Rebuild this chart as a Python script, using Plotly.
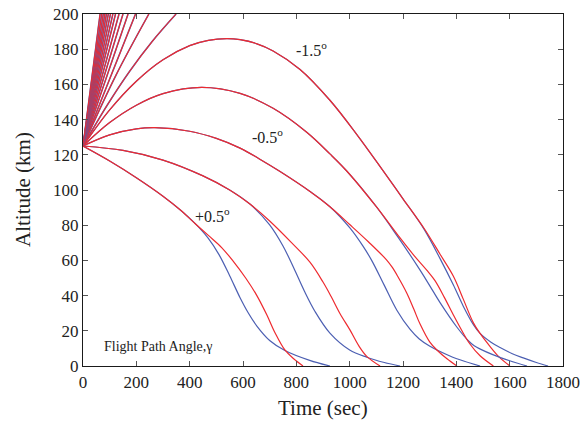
import plotly.graph_objects as go

RED = "#ee2a2f"
BLUE = "#4c5fb2"

# ---- Flight path angle +0.5 deg ----
t_p05_blue = [0, 100, 200, 300, 364, 420, 470, 510, 550, 589, 620, 652, 700, 757, 850, 926]
h_p05_blue = [125, 116.5, 107, 96.5, 88.8, 81, 72.5, 63.3, 51.3, 38.8, 30.1, 22.7, 14.5, 8.8, 3.2, 0]
t_p05_red = [0, 100, 200, 300, 364, 420, 470, 520, 563, 610, 652, 690, 720, 757, 790, 825]
h_p05_red = [125, 116.5, 107, 96.5, 88.8, 81, 74.2, 67.3, 59.6, 50, 40, 28.8, 18.9, 9.1, 4.1, 0]

# ---- 0 deg ----
t_00_blue = [0, 150, 300, 450, 550, 626, 700, 750, 790, 830, 870, 926, 1000, 1064, 1130, 1189]
h_00_blue = [125, 122.5, 117, 108, 100, 92, 80.2, 68.2, 55.8, 42.6, 31, 18.7, 9.1, 5, 2, 0]
t_00_red = [0, 150, 300, 450, 550, 626, 700, 780, 851, 900, 930, 964, 1001, 1035, 1064, 1114]
h_00_red = [125, 122.5, 117, 108, 100, 92, 82.4, 70.4, 59, 47.7, 39.6, 29.7, 20.5, 11.3, 5.5, 0]

# ---- -0.5 deg ----
t_m05_blue = [0, 100, 200, 270, 400, 500, 589, 660, 739, 850, 926, 1000, 1050, 1084, 1130, 1177, 1226, 1260, 1301, 1376, 1430, 1489]
h_m05_blue = [125, 131.3, 134.7, 135.4, 133.4, 129.3, 123.8, 117.8, 110.5, 99.3, 90.5, 78.6, 68.1, 59.6, 45.8, 31.7, 20.9, 15.5, 11.2, 5.7, 2.7, 0]
t_m05_red = [0, 100, 200, 270, 400, 500, 589, 660, 739, 850, 926, 1000, 1070, 1139, 1160, 1180, 1214, 1240, 1264, 1300, 1327, 1365, 1402]
h_m05_red = [125, 131.3, 134.7, 135.4, 133.4, 129.3, 123.8, 117.8, 110.5, 99.3, 90.5, 80.4, 70.6, 60.2, 56, 51, 41.5, 32.5, 23.8, 13.7, 9.1, 4.1, 0]

# ---- -1.0 deg ----
t_m10_blue = [0, 100, 200, 300, 445, 589, 713, 839, 926, 989, 1100, 1180, 1264, 1300, 1339, 1401, 1444, 1467, 1490, 1539, 1600, 1665]
h_m10_blue = [125, 138.3, 148.2, 154.8, 158.3, 154.9, 146.4, 132.8, 120.5, 110.8, 90.5, 73.5, 54.5, 45.7, 36, 22.3, 14.5, 11.5, 9.6, 6.3, 3, 0]
t_m10_red = [0, 100, 200, 300, 445, 589, 713, 839, 926, 989, 1100, 1180, 1240, 1289, 1320, 1355, 1389, 1420, 1451, 1489, 1539]
h_m10_red = [125, 138.3, 148.2, 154.8, 158.3, 154.9, 146.4, 132.8, 120.5, 110.8, 90.5, 74.5, 63, 54.5, 48.5, 39, 29, 20.3, 12.5, 5.8, 0]

# ---- -1.5 deg ----
t_m15_blue = [0, 100, 200, 300, 400, 470, 539, 589, 650, 713, 814, 926, 1027, 1125, 1200, 1280, 1339, 1389, 1426, 1464, 1489, 1530, 1564, 1610, 1651, 1700, 1744]
h_m15_blue = [125, 145.5, 161.8, 174, 182, 185, 186, 185.4, 183.2, 179, 168.5, 151, 131.5, 111, 95, 77.5, 61, 46, 34, 23.5, 18.5, 13.5, 10.5, 7, 4.6, 2, 0]
t_m15_red = [0, 100, 200, 300, 400, 470, 539, 589, 650, 713, 814, 926, 1027, 1125, 1200, 1280, 1339, 1389, 1426, 1464, 1489, 1526, 1560, 1601]
h_m15_red = [125, 145.5, 161.8, 174, 182, 185, 186, 185.4, 183.2, 179, 168.5, 151, 131.5, 111, 95, 78, 63.5, 51, 38, 24.5, 18.5, 11.2, 5.2, 0]

# ---- steeper angles (leave the frame at 200 km) ----
t_m20 = [0, 90, 175, 260, 349]
h_m20 = [125, 148, 167.5, 184.5, 200]
t_m25 = [0, 123, 247]
h_m25 = [125, 165, 200]
steep_exit_t = [197, 169, 150, 135, 122, 112, 103, 95, 88, 82, 76, 70, 64]
steep_start = (0, 125)
steep_top = 200

fig = go.Figure()

def add_pair(tb, hb, tr, hr, wb=1.2, wr=1.2):
    fig.add_trace(go.Scatter(x=tb, y=hb, mode="lines", line=dict(color=BLUE, width=wb, shape="spline", smoothing=1.0), hoverinfo="skip"))
    fig.add_trace(go.Scatter(x=tr, y=hr, mode="lines", line=dict(color=RED, width=wr, shape="spline", smoothing=1.0), hoverinfo="skip"))

for te in steep_exit_t:
    tt = [steep_start[0], te]
    hh = [steep_start[1], steep_top]
    add_pair(tt, hh, tt, hh, 1.5, 1.1)
add_pair(t_m25, h_m25, t_m25, h_m25, 1.5, 1.1)
add_pair(t_m20, h_m20, t_m20, h_m20, 1.5, 1.1)
add_pair(t_m15_blue, h_m15_blue, t_m15_red, h_m15_red)
add_pair(t_m10_blue, h_m10_blue, t_m10_red, h_m10_red)
add_pair(t_m05_blue, h_m05_blue, t_m05_red, h_m05_red)
add_pair(t_00_blue, h_00_blue, t_00_red, h_00_red)
add_pair(t_p05_blue, h_p05_blue, t_p05_red, h_p05_red)

FONT = "Liberation Serif"
TXT = "#222222"

annotations = [
    dict(x=858, y=180, text="-1.5<sup>o</sup>", xanchor="center", yanchor="middle"),
    dict(x=692, y=130.5, text="-0.5<sup>o</sup>", xanchor="center", yanchor="middle"),
    dict(x=484, y=86, text="+0.5<sup>o</sup>", xanchor="center", yanchor="middle"),
]
for a in annotations:
    fig.add_annotation(**a, showarrow=False, font=dict(family=FONT, size=16, color=TXT))
fig.add_annotation(x=72, y=11, text="Flight Path Angle,γ", xanchor="left", yanchor="middle",
                   showarrow=False, font=dict(family=FONT, size=14, color=TXT))

# axis titles
fig.add_annotation(xref="paper", yref="paper", x=0.5, y=0, yshift=-42, text="Time (sec)",
                   xanchor="center", yanchor="middle", showarrow=False,
                   font=dict(family=FONT, size=21, color=TXT))
fig.add_annotation(xref="paper", yref="paper", x=0, y=0.5, xshift=-60, text="Altitude (km)",
                   textangle=-90, xanchor="center", yanchor="middle", showarrow=False,
                   font=dict(family=FONT, size=21, color=TXT))

axis_common = dict(
    showgrid=False, zeroline=False, showline=True, linecolor="#1a1a1a", linewidth=1.3,
    mirror="ticks", ticks="inside", ticklen=5, tickwidth=1, tickcolor="#555555",
    tickfont=dict(family=FONT, size=17, color=TXT), automargin=False,
)
fig.update_xaxes(range=[0, 1800], dtick=200, tick0=0, **axis_common)
fig.update_yaxes(range=[0, 200], dtick=20, tick0=0, **axis_common)

fig.update_layout(
    width=586, height=424, showlegend=False,
    margin=dict(l=83, r=23, t=14, b=58),
    plot_bgcolor="white", paper_bgcolor="white",
)

fig.write_html("out.html")
